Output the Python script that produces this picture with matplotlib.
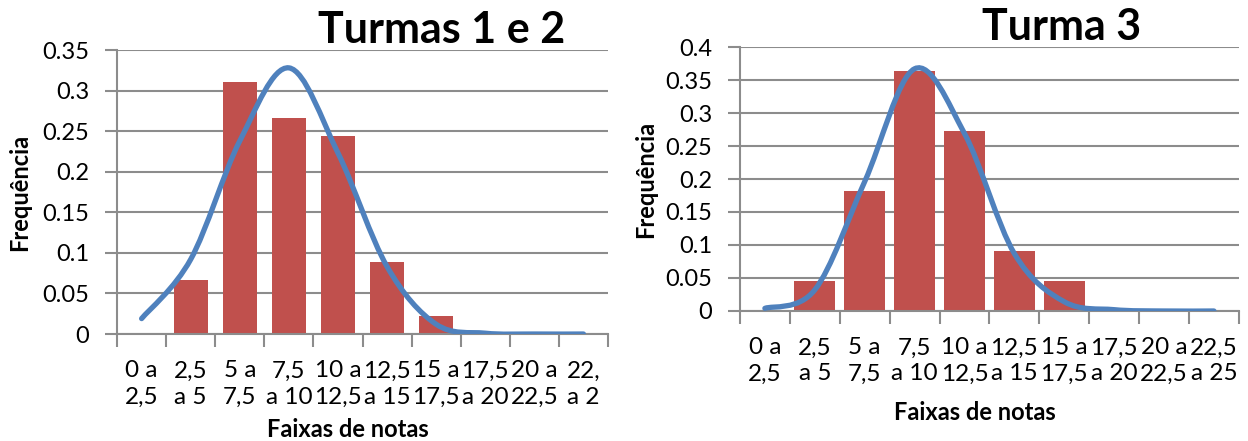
import matplotlib
matplotlib.use('Agg')
import matplotlib.pyplot as plt
from matplotlib.path import Path
from matplotlib.patches import PathPatch
from matplotlib.ticker import FuncFormatter

plt.rcParams['font.family'] = ['Lato', 'DejaVu Sans']

# categories (score ranges)
labels_12 = ['0 a\n2,5', '2,5\na 5', '5 a\n7,5', '7,5\na 10', '10 a\n12,5',
             '12,5\na 15', '15 a\n17,5', '17,5\na 20', '20 a\n22,5', '22,\na 2']
labels_3 = ['0 a\n2,5', '2,5\na 5', '5 a\n7,5', '7,5\na 10', '10 a\n12,5',
            '12,5\na 15', '15 a\n17,5', '17,5\na 20', '20 a\n22,5', '22,5\na 25']

# observed frequencies (bars)
freq_12 = [0, 0.0667, 0.3111, 0.2667, 0.2444, 0.0889, 0.0222, 0, 0, 0]
freq_3 = [0, 0.0455, 0.1818, 0.3636, 0.2727, 0.0909, 0.0455, 0, 0, 0]

# fitted curve values at the category centers
curve_12 = [0.019, 0.092, 0.238, 0.328, 0.223, 0.083, 0.012, 0.001, 0.0, 0.0]
curve_3 = [0.004, 0.032, 0.196, 0.367, 0.269, 0.087, 0.014, 0.002, 0.0, 0.0]

bar_color = '#C0504D'
line_color = '#4F81BD'
grid_color = '#8C8C8C'


def smooth_path(xs, ys):
    # Catmull-Rom style bezier path, like Excel's smoothed line
    pts = list(zip(xs, ys))
    verts = [pts[0]]
    codes = [Path.MOVETO]
    n = len(pts)
    for i in range(n - 1):
        p0 = pts[max(i - 1, 0)]
        p1 = pts[i]
        p2 = pts[i + 1]
        p3 = pts[min(i + 2, n - 1)]
        c1 = (p1[0] + (p2[0] - p0[0]) / 6, p1[1] + (p2[1] - p0[1]) / 6)
        c2 = (p2[0] - (p3[0] - p1[0]) / 6, p2[1] - (p3[1] - p1[1]) / 6)
        verts += [c1, c2, p2]
        codes += [Path.CURVE4] * 3
    return Path(verts, codes)


def draw(ax, labels, freq, curve, ymax, bar_w, title, title_xy, xlab_y, ylab_x):
    x = [i + 0.5 for i in range(len(labels))]
    ax.bar(x, freq, width=bar_w, color=bar_color, zorder=2)
    ax.add_patch(PathPatch(smooth_path(x, curve), facecolor='none',
                           edgecolor=line_color, lw=3.8, capstyle='round', zorder=3))
    ax.set_xlim(0, len(labels))
    ax.set_ylim(0, ymax)
    ax.set_yticks([k * 0.05 for k in range(int(round(ymax / 0.05)) + 1)])
    ax.yaxis.set_major_formatter(FuncFormatter(lambda v, p: '%g' % round(v, 2)))
    ax.grid(axis='y', color=grid_color, lw=1.5, zorder=0)
    ax.set_xticks(range(len(labels) + 1))
    ax.set_xticklabels([])
    ax.set_xticks(x, minor=True)
    ax.set_xticklabels(labels, minor=True, linespacing=1.3)
    ax.tick_params(axis='x', which='major', length=9, width=1.5, color=grid_color, direction='out')
    ax.tick_params(axis='x', which='minor', length=0, pad=19, labelsize=17.5)
    ax.tick_params(axis='y', length=9, width=1.5, color=grid_color, labelsize=17, pad=11)
    for s in ['top', 'right']:
        ax.spines[s].set_visible(False)
    for s in ['left', 'bottom']:
        ax.spines[s].set_color(grid_color)
        ax.spines[s].set_linewidth(1.5)
    fig.text(title_xy[0], title_xy[1], title, fontsize=31, fontweight='bold',
             ha='center', va='center')
    ax.set_xlabel('Faixas de notas', fontsize=17, fontweight='bold', va='center')
    ax.xaxis.set_label_coords(0.47, xlab_y)
    ax.set_ylabel('Frequência', fontsize=17, fontweight='bold', va='center')
    ax.yaxis.set_label_coords(ylab_x, 0.5)


fig = plt.figure(figsize=(12.48, 4.41), dpi=100)
ax1 = fig.add_axes([0.0938, 0.2426, 0.3934, 0.644])
ax2 = fig.add_axes([0.5929, 0.2948, 0.3998, 0.5986])

draw(ax1, labels_12, freq_12, curve_12, 0.35, 0.69, 'Turmas 1 e 2',
     (442 / 1248, 1 - 30 / 441), -0.335, -0.198)
draw(ax2, labels_3, freq_3, curve_3, 0.4, 0.82, 'Turma 3',
     (1062 / 1248, 1 - 27 / 441), -0.383, -0.19)

fig.savefig('out.png', dpi=100)
